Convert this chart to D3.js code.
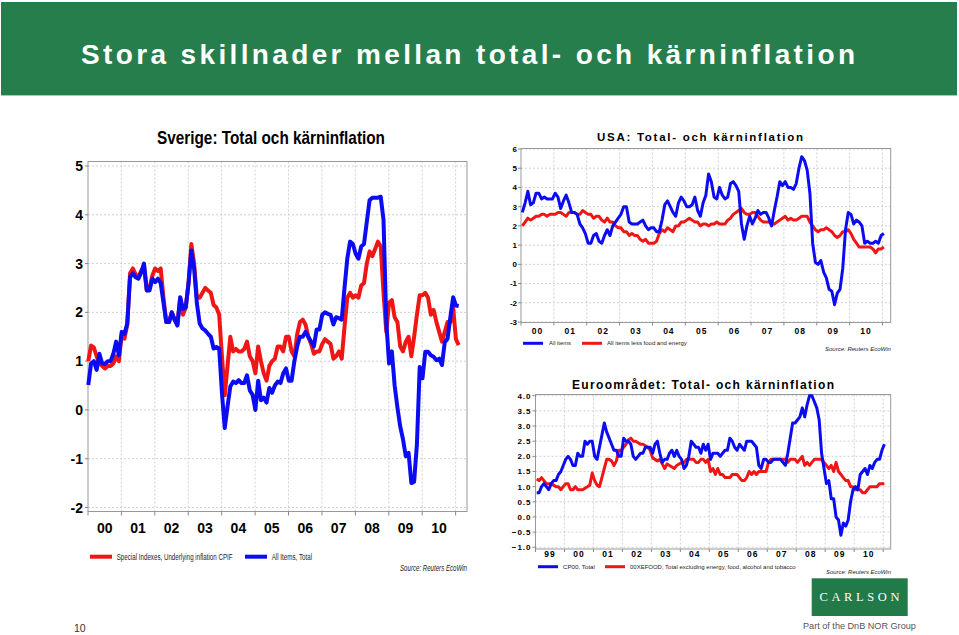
<!DOCTYPE html>
<html><head><meta charset="utf-8">
<script src="https://cdn.jsdelivr.net/npm/d3@7"></script>
<style>body{margin:0;background:#fff}svg{display:block}</style>
</head><body>
<svg id="s" width="959" height="635"></svg>
<script>
// ---------- DATA ----------
const seYearLabels = ["00","01","02","03","04","05","06","07","08","09","10"];
const seYTicks = [5,4,3,2,1,0,-1,-2];
// Sweden, monthly from Jan 2000: CPIF (red) and CPI total (blue)
const seCPIF = [
 1.0,1.32,1.28,1.1,0.95,0.9,0.85,0.9,0.9,0.95,1.1,1.0,
 1.55,1.46,1.75,2.8,2.9,2.78,2.72,2.85,2.95,2.45,2.5,2.75,
 2.9,2.85,2.9,2.3,1.8,1.8,2.0,1.85,1.75,2.3,1.95,2.1,
 2.6,3.4,3.0,2.3,2.3,2.4,2.5,2.45,2.4,2.15,2.1,1.95,
 1.1,0.3,0.9,1.5,1.2,1.25,1.2,1.2,1.25,1.4,1.1,1.0,
 0.75,1.3,1.0,0.75,0.6,0.9,1.0,1.05,1.3,1.3,1.2,1.5,
 1.5,1.2,1.1,1.55,1.8,1.85,1.75,1.5,1.35,1.15,1.2,1.2,
 1.35,1.45,1.4,1.35,1.05,1.1,1.2,1.05,1.7,2.3,2.4,2.3,
 2.35,2.3,2.55,2.6,3.0,3.25,3.15,3.3,3.45,3.35,2.4,1.6,
 2.2,2.25,1.9,1.8,1.3,1.2,1.4,1.5,1.1,1.5,1.95,2.35,
 2.35,2.4,2.3,1.95,2.05,1.8,1.6,1.4,1.6,1.8,1.8,2.1,
 1.45,1.33];
const seCPI = [
 0.51,0.95,1.0,0.82,1.15,0.95,0.94,1.0,1.0,1.15,1.4,1.12,
 1.6,1.56,1.77,2.72,2.8,2.72,2.69,2.82,3.0,2.45,2.45,2.69,
 2.62,2.69,2.6,2.2,1.8,1.8,2.0,1.85,1.73,2.31,2.07,2.1,
 2.6,3.27,2.9,2.18,1.77,1.67,1.63,1.56,1.5,1.26,1.29,1.26,
 0.34,-0.37,0.07,0.48,0.58,0.55,0.61,0.55,0.55,0.71,0.4,0.31,
 0.0,0.6,0.2,0.25,0.15,0.45,0.35,0.5,0.58,0.55,0.75,0.85,
 0.6,0.6,1.0,1.3,1.5,1.5,1.6,1.5,1.4,1.3,1.65,1.65,
 1.95,2.0,1.97,1.95,1.75,1.9,1.88,1.85,2.5,3.1,3.45,3.4,
 3.2,3.1,3.35,3.4,3.85,4.3,4.35,4.35,4.35,4.37,3.9,1.8,
 0.95,1.2,0.5,0.05,-0.34,-0.6,-0.95,-0.88,-1.5,-1.47,-0.7,0.88,
 0.65,1.19,1.19,1.12,1.09,1.02,1.05,0.92,1.39,1.46,1.9,2.31,
 2.14,2.13];

const usYearLabels = ["00","01","02","03","04","05","06","07","08","09","10"];
const usYTicks = [6,5,4,3,2,1,0,-1,-2,-3];
// USA, monthly from Jan 2000: CPI all items (blue), core (red)
const usAll = [
 2.7,3.2,3.8,3.1,3.2,3.7,3.7,3.4,3.5,3.4,3.4,3.4,
 3.7,3.5,2.9,3.3,3.6,3.2,2.7,2.7,2.6,2.1,1.9,1.6,
 1.1,1.1,1.5,1.6,1.2,1.1,1.5,1.8,1.5,2.0,2.2,2.4,
 2.6,3.0,3.0,2.2,2.1,2.1,2.1,2.2,2.3,2.0,1.8,1.9,
 1.9,1.7,1.7,2.3,3.1,3.3,3.0,2.7,2.5,3.2,3.5,3.3,
 3.0,3.0,3.1,3.5,2.8,2.5,3.2,3.6,4.7,4.3,3.5,3.4,
 4.0,3.6,3.4,3.5,4.2,4.3,4.1,3.8,2.1,1.3,2.0,2.5,
 2.1,2.4,2.8,2.6,2.7,2.7,2.4,2.0,2.8,3.5,4.3,4.1,
 4.3,4.0,4.0,3.9,4.2,5.0,5.6,5.4,4.9,3.7,1.1,0.1,
 0.0,0.2,-0.4,-0.7,-1.3,-1.4,-2.1,-1.5,-1.3,-0.2,1.8,2.7,
 2.6,2.1,2.3,2.2,2.0,1.1,1.2,1.1,1.1,1.2,1.1,1.5,
 1.6];
const usCore = [
 2.0,2.2,2.4,2.3,2.4,2.5,2.5,2.6,2.6,2.5,2.6,2.6,
 2.6,2.7,2.7,2.6,2.5,2.7,2.7,2.7,2.6,2.6,2.8,2.7,
 2.6,2.6,2.4,2.5,2.5,2.3,2.2,2.4,2.2,2.2,2.0,1.9,
 1.9,1.7,1.7,1.5,1.6,1.5,1.5,1.3,1.2,1.3,1.1,1.1,
 1.1,1.2,1.6,1.8,1.7,1.9,1.8,1.7,2.0,2.0,2.2,2.2,
 2.3,2.4,2.3,2.2,2.2,2.0,2.1,2.1,2.0,2.1,2.1,2.2,
 2.1,2.1,2.1,2.3,2.4,2.6,2.7,2.8,2.9,2.7,2.6,2.6,
 2.7,2.7,2.5,2.3,2.2,2.2,2.2,2.1,2.1,2.2,2.3,2.4,
 2.5,2.3,2.4,2.3,2.3,2.4,2.5,2.5,2.5,2.2,2.0,1.8,
 1.7,1.8,1.8,1.9,1.8,1.7,1.5,1.4,1.5,1.7,1.7,1.8,
 1.6,1.3,1.1,0.9,0.9,0.9,0.9,0.9,0.8,0.6,0.8,0.8,
 0.9];

const euYearLabels = ["99","00","01","02","03","04","05","06","07","08","09","10"];
const euYTicks = [4.0,3.5,3.0,2.5,2.0,1.5,1.0,0.5,0.0,-0.5,-1.0];
// Euro area, monthly from Jan 1999: HICP total (blue), core (red)
const euTotal = [
 0.8,0.8,1.0,1.1,1.0,0.9,1.1,1.2,1.2,1.4,1.5,1.7,
 1.9,2.0,1.9,1.7,1.7,2.1,2.0,2.0,2.5,2.4,2.5,2.5,
 2.0,1.9,2.3,2.7,3.1,2.8,2.6,2.4,2.2,2.2,2.0,2.0,
 2.6,2.5,2.5,2.4,2.0,1.9,2.0,2.1,2.1,2.3,2.3,2.3,
 2.1,2.4,2.5,2.1,1.8,1.9,1.9,2.1,2.2,2.0,2.2,2.0,
 1.9,1.6,1.7,2.0,2.5,2.4,2.3,2.3,2.1,2.4,2.2,2.4,
 1.9,2.1,2.1,2.1,2.0,2.1,2.2,2.2,2.6,2.5,2.3,2.2,
 2.4,2.3,2.2,2.5,2.5,2.5,2.4,2.3,1.7,1.6,1.9,1.9,
 1.8,1.8,1.9,1.9,1.9,1.9,1.8,1.7,2.1,2.6,3.1,3.1,
 3.2,3.3,3.6,3.3,3.7,4.0,4.0,3.8,3.6,3.2,2.1,1.6,
 1.1,1.2,0.6,0.6,0.0,-0.1,-0.6,-0.2,-0.3,-0.1,0.5,0.9,
 1.0,0.9,1.4,1.5,1.6,1.4,1.7,1.6,1.8,1.9,1.9,2.2,
 2.4];
const euCore = [
 1.25,1.2,1.3,1.2,1.1,1.1,1.1,1.05,1.0,1.0,0.9,1.0,
 1.1,1.1,0.9,0.9,1.0,0.9,0.9,0.9,0.95,1.0,1.05,1.45,
 1.2,1.05,1.0,1.3,1.6,1.9,1.9,1.85,1.7,1.85,2.2,2.2,
 2.3,2.4,2.55,2.6,2.5,2.5,2.45,2.4,2.4,2.35,2.3,2.2,
 1.95,1.9,1.85,1.9,1.75,1.6,1.75,1.7,1.65,1.6,1.7,1.75,
 1.8,1.8,1.9,1.9,1.9,1.9,1.8,1.8,1.9,1.9,1.8,1.9,
 1.5,1.6,1.4,1.6,1.4,1.4,1.3,1.3,1.3,1.4,1.4,1.4,
 1.3,1.2,1.2,1.3,1.5,1.4,1.5,1.4,1.5,1.5,1.5,1.5,
 1.8,1.9,1.9,1.9,1.9,1.9,1.9,1.9,1.8,1.9,1.9,1.9,
 1.8,1.9,2.0,1.7,1.8,1.7,1.8,1.9,1.9,1.9,1.9,1.8,
 1.7,1.6,1.7,1.5,1.8,1.5,1.4,1.3,1.2,1.2,1.0,1.0,
 0.9,0.9,0.9,0.8,0.8,0.9,1.0,1.0,1.0,1.0,1.1,1.1,
 1.1];

// ---------- DRAW ----------
const svg = d3.select("#s");
const RED = "#f01616", BLUE = "#0c0cf2";
const NARROW = "'Liberation Sans Narrow','Arial Narrow','Liberation Sans',Arial,sans-serif";
const SANS = "'Liberation Sans',Arial,sans-serif";

// place a text at (x,y) and scale it horizontally so it spans exactly w pixels
function fitText(sel, x, y, w){
  const n = sel.node().getComputedTextLength();
  const sx = n > 0 ? w / n : 1;
  sel.attr("x",0).attr("y",0).attr("transform",`translate(${x},${y}) scale(${sx},1)`);
  return sel;
}

// Slide title band
svg.append("rect").attr("x",1).attr("y",2).attr("width",956).attr("height",93).attr("fill","#267e4c");
svg.append("line").attr("x1",1).attr("x2",957).attr("y1",95.5).attr("y2",95.5).attr("stroke","#a9c9b4").attr("stroke-width",1);
svg.append("text").attr("x",81).attr("y",63.5).attr("fill","#fff")
  .attr("font-family",SANS).attr("font-weight","bold").attr("font-size",28)
  .attr("textLength",774).attr("lengthAdjust","spacing")
  .text("Stora skillnader mellan total- och kärninflation");

function drawChart(o){
  const g = svg.append("g");
  const x = d3.scaleLinear().domain(o.xDomain).range([o.left,o.right]);
  const y = d3.scaleLinear().domain(o.yDomain).range([o.yBottom,o.yTop]);
  const fTop = o.frameTop, fBot = o.frameBottom;
  const years = d3.range(o.firstYear+1, o.firstYear+o.yearLabels.length+1);
  // horizontal grid
  g.selectAll(null).data(o.yTicks).join("line")
    .attr("x1",o.left).attr("x2",o.right)
    .attr("y1",d=>y(d)).attr("y2",d=>y(d))
    .attr("stroke","#d0d0d0").attr("stroke-dasharray","2,2").attr("stroke-width",1);
  // vertical grid
  g.selectAll(null).data(years).join("line")
    .attr("x1",d=>x(d)).attr("x2",d=>x(d))
    .attr("y1",fTop).attr("y2",fBot)
    .attr("stroke","#d0d0d0").attr("stroke-dasharray","2,2").attr("stroke-width",1);
  // frame
  g.append("rect").attr("x",o.left).attr("y",fTop).attr("width",o.right-o.left).attr("height",fBot-fTop)
    .attr("fill","none").attr("stroke","#999").attr("stroke-width",1);
  // left axis ticks
  g.selectAll(null).data(o.yTicks).join("line")
    .attr("x1",o.left-3).attr("x2",o.left).attr("y1",d=>y(d)).attr("y2",d=>y(d))
    .attr("stroke","#888");
  // bottom axis ticks at year boundaries
  g.selectAll(null).data([o.firstYear].concat(years)).join("line")
    .attr("x1",d=>x(d)).attr("x2",d=>x(d)).attr("y1",fBot).attr("y2",fBot+o.tickLen)
    .attr("stroke","#888");
  // y labels
  g.selectAll(null).data(o.yTicks).join("text")
    .attr("x",o.left-o.yLabelGap).attr("y",d=>y(d)).attr("dy","0.36em")
    .attr("text-anchor","end").attr("font-family",o.font).attr("font-weight","bold")
    .attr("font-size",o.tickSize).attr("letter-spacing",o.ySpacing||0)
    .text(d=>o.yFormat(d));
  // x labels
  g.selectAll(null).data(o.yearLabels).join("text")
    .attr("x",(d,i)=>x(o.firstYear+i+0.5)).attr("y",o.xLabelY)
    .attr("text-anchor","middle").attr("font-family",o.font).attr("font-weight","bold")
    .attr("font-size",o.xTickSize).attr("letter-spacing",o.xSpacing||0)
    .text(d=>d);
  // lines
  const line = d3.line().x(d=>x(d.t)).y(d=>y(d.v)).curve(d3.curveLinear);
  o.series.forEach(s=>{
    const pts = s.values.map((v,i)=>({t:o.firstYear+(i+o.offset)/12, v}));
    g.append("path").datum(pts).attr("d",line).attr("fill","none")
      .attr("stroke",s.color).attr("stroke-width",o.lineWidth)
      .attr("stroke-linejoin","round").attr("stroke-linecap","butt");
  });
  // title
  g.append("text").attr("x",o.title.x).attr("y",o.title.y).attr("font-family",o.title.font)
    .attr("font-weight","bold").attr("font-size",o.title.size)
    .attr("textLength",o.title.w).attr("lengthAdjust",o.title.adj)
    .text(o.title.text);
  // legend
  o.legend.forEach(l=>{
    g.append("line").attr("x1",l.x1).attr("x2",l.x2).attr("y1",l.y).attr("y2",l.y)
      .attr("stroke",l.color).attr("stroke-width",l.sw);
    const t = g.append("text").attr("font-family",o.font)
      .attr("font-size",l.size).attr("fill","#222").text(l.text);
    fitText(t, l.tx, l.y+l.size*0.36, l.tw);
  });
  const src = g.append("text").attr("font-family",o.font)
    .attr("font-style","italic").attr("font-size",o.source.size).attr("fill","#222")
    .text("Source: Reuters EcoWin");
  fitText(src, o.source.x, o.source.y, o.source.w);
}

// Sweden
drawChart({
  left:88, right:467, xDomain:[2000,2011.34], firstYear:2000, offset:0.1,
  yDomain:[-2,5], yBottom:507.5, yTop:166, frameTop:161.5, frameBottom:511.5,
  yTicks:seYTicks, yearLabels:seYearLabels, yFormat:d=>String(d),
  font:NARROW, tickSize:14, xTickSize:14, yLabelGap:5, xLabelY:532.5, tickLen:4,
  lineWidth:4,
  series:[{values:seCPIF,color:RED},{values:seCPI,color:BLUE}],
  title:{text:"Sverige: Total och kärninflation",x:157,y:143.5,size:19,w:228,adj:"spacingAndGlyphs",font:NARROW},
  legend:[
    {x1:90,x2:112,y:556.7,color:RED,sw:4,tx:116.7,tw:116,size:9.5,text:"Special Indexes, Underlying inflation CPIF"},
    {x1:245,x2:267,y:556.7,color:BLUE,sw:4,tx:271.7,tw:40.5,size:9.5,text:"All Items, Total"}
  ],
  source:{x:400,y:570.5,size:9.5,w:67}
});

// USA
drawChart({
  left:521, right:890.7, xDomain:[2000,2011.25], firstYear:2000, offset:0.5,
  yDomain:[-3,6], yBottom:322, yTop:149, frameTop:148.5, frameBottom:322.5,
  yTicks:usYTicks, yearLabels:usYearLabels, yFormat:d=>String(d),
  font:SANS, tickSize:8, xTickSize:8.5, yLabelGap:4, xLabelY:333.5, tickLen:3,
  xSpacing:1, lineWidth:3,
  series:[{values:usCore,color:RED},{values:usAll,color:BLUE}],
  title:{text:"USA: Total- och kärninflation",x:597,y:140.7,size:11.5,w:206,adj:"spacing",font:SANS},
  legend:[
    {x1:523,x2:543,y:343.3,color:BLUE,sw:3,tx:549,tw:22,size:6,text:"All items"},
    {x1:582,x2:602,y:343.3,color:RED,sw:3,tx:607,tw:80,size:6,text:"All items less food and energy"}
  ],
  source:{x:825,y:350.5,size:6,w:66}
});

// Euro area
drawChart({
  left:535.5, right:890.7, xDomain:[1999,2011.26], firstYear:1999, offset:0.5,
  yDomain:[-1,4], yBottom:547.3, yTop:395.7, frameTop:394.5, frameBottom:549,
  yTicks:euYTicks, yearLabels:euYearLabels, yFormat:d3.format(".1f"),
  font:SANS, tickSize:8, xTickSize:8.5, yLabelGap:4, xLabelY:556.5, tickLen:3,
  ySpacing:1, xSpacing:1, lineWidth:3,
  series:[{values:euCore,color:RED},{values:euTotal,color:BLUE}],
  title:{text:"Euroområdet: Total- och kärninflation",x:572,y:389.3,size:12,w:262,adj:"spacing",font:SANS},
  legend:[
    {x1:538,x2:558,y:566.7,color:BLUE,sw:3,tx:563,tw:32,size:6,text:"CP00, Total"},
    {x1:605,x2:625,y:566.7,color:RED,sw:3,tx:630,tw:166,size:6,text:"00XEFOOD, Total excluding energy, food, alcohol and tobacco"}
  ],
  source:{x:826,y:573.5,size:6,w:65}
});

// Carlson logo
svg.append("rect").attr("x",811.7).attr("y",578.3).attr("width",96).attr("height",37.7).attr("fill","#217a47");
svg.append("text").attr("x",819.5).attr("y",600.5).attr("fill","#fff")
  .attr("font-family","'Liberation Serif','DejaVu Serif',serif").attr("font-size",12.5)
  .attr("textLength",80).attr("lengthAdjust","spacing").text("CARLSON");
const tag = svg.append("text").attr("fill","#555")
  .attr("font-family",SANS).attr("font-size",9.5).text("Part of the DnB NOR Group");
fitText(tag, 803, 629, 113);
// page number
svg.append("text").attr("x",74).attr("y",631.5).attr("fill","#333")
  .attr("font-family",SANS).attr("font-size",10.5).text("10");
</script>
</body></html>
